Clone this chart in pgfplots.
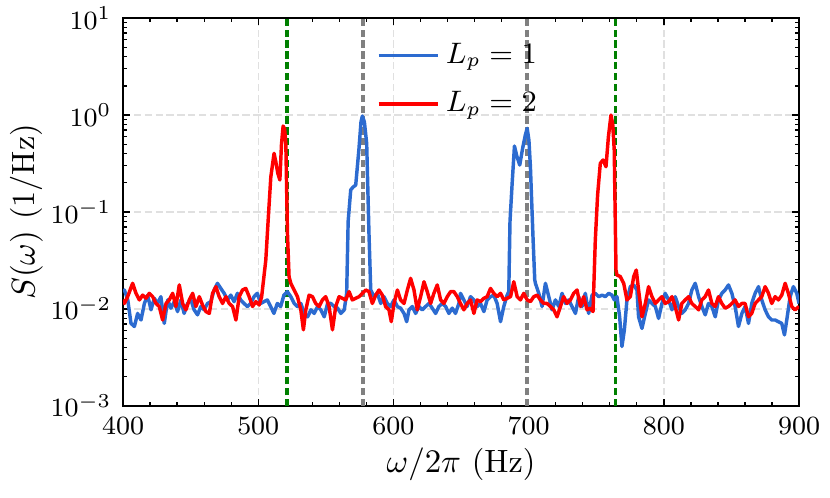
\documentclass[border=0pt]{standalone}
\usepackage{pgfplots}
\pgfplotsset{compat=1.18}
\definecolor{lblue}{RGB}{44,107,208}
\definecolor{vgreen}{RGB}{0,128,0}
\definecolor{vgray}{RGB}{128,128,128}
\begin{document}
\begin{tikzpicture}
\begin{axis}[
  at={(0,0)}, anchor=south west,
  scale only axis, width=205.5pt, height=117.9pt,
  ymode=log, xmin=400, xmax=900, ymin=1e-3, ymax=10,
  xtick={400,500,600,700,800,900}, minor x tick num=4,
  tick align=inside,
  major tick length=2.2pt, minor tick length=1.3pt,
  every tick/.style={black, line width=0.4pt},
  axis line style={line width=0.5pt},
  grid=major,
  major grid style={dash pattern=on 2.2pt off 1.1pt, color=black!12, line width=0.4pt},
  x tick label style={font=\fontsize{8.5}{10}\selectfont},
  y tick label style={font=\fontsize{8.2}{10}\selectfont},
  every axis x label/.style={at={(axis description cs:0.5,0)}, anchor=center, yshift=-17.8pt, font=\fontsize{9.8}{12}\selectfont},
  every axis y label/.style={at={(axis description cs:0,0.5)}, xshift=-29.4pt, anchor=center, rotate=90, font=\fontsize{9.8}{12}\selectfont},
  xlabel={$\omega/2\pi$ (Hz)},
  ylabel={$S(\omega)$ (1/Hz)},
  legend style={draw=none, fill=none, font=\fontsize{8.6}{10}\selectfont,
    at={(0.36,0.972)}, anchor=north west, row sep=3.2pt},
  legend cell align=left,
  legend image code/.code={\draw[#1] (0cm,0cm) -- (0.63cm,0cm);},
]
\addplot[vgreen, line width=1.1pt, dash pattern=on 2.2pt off 1.1pt, forget plot] coordinates {(521.1,1e-3) (521.1,10)};
\addplot[vgreen, line width=1.1pt, dash pattern=on 2.2pt off 1.1pt, forget plot] coordinates {(764.1,1e-3) (764.1,10)};
\addplot[vgray, line width=1.1pt, dash pattern=on 2.2pt off 1.1pt, forget plot] coordinates {(577.3,1e-3) (577.3,10)};
\addplot[vgray, line width=1.1pt, dash pattern=on 2.2pt off 1.1pt, forget plot] coordinates {(699.0,1e-3) (699.0,10)};
% L_p = 1
\addplot[lblue, line width=1.05pt, line join=round] coordinates {
(400.0,0.0150) (401,0.0157) (403.5,0.0124) (405.9,0.0071) (408.4,0.0066) (410.8,0.0090) (413.3,0.0077)
(415.8,0.0114) (418.2,0.0139) (420.7,0.0098) (423.1,0.0129) (425.6,0.0114) (428,0.0134)
(430.5,0.0071) (433,0.0124) (435.4,0.0102) (437.9,0.0119) (440.3,0.0094) (442.8,0.0124)
(445.2,0.0090) (447.7,0.0114) (450.2,0.0124) (452.6,0.0098) (455.1,0.0087) (457.5,0.0106)
(460,0.0098) (462.5,0.0114) (464.9,0.0119) (467.4,0.0157) (469.8,0.0184) (472.3,0.0163)
(474.8,0.0145) (477.2,0.0124) (479.7,0.0139) (482.1,0.0119) (484.6,0.0145) (487,0.0124)
(489.5,0.0114) (492,0.0106) (494.4,0.0114) (496.9,0.0134) (499.3,0.0145) (501.8,0.0114)
(504.3,0.0119) (506.7,0.0124) (509.2,0.0106) (511.6,0.0090) (514.1,0.0114) (516.6,0.0106)
(519,0.0139) (521.5,0.0151) (524.1,0.0134) (526.6,0.0114) (529,0.0106) (531.5,0.0114)
(534,0.0090) (536.5,0.0083) (539,0.0098) (541.4,0.0090) (543.9,0.0106) (546.3,0.0098)
(548.8,0.0083) (551.3,0.0114) (553.7,0.0114) (556.2,0.0106) (558.7,0.0102) (561.1,0.0090)
(563.6,0.0098) (565.4,0.0145) (566.5,0.08) (568.4,0.169) (570,0.18) (572.1,0.190)
(574.5,0.45) (576,0.85) (577.0,0.977) (578.5,0.85) (580.2,0.511) (581.9,0.060)
(583.2,0.0157) (585.6,0.0134) (588.1,0.0145) (590.6,0.0114) (593.0,0.0134) (595.5,0.0114)
(597.9,0.0106) (600.4,0.0124) (602.9,0.0106) (605.3,0.0102) (607.8,0.0090) (609.8,0.0074)
(611.5,0.0098) (614.0,0.0106) (616.4,0.0090) (618.9,0.0106) (621.3,0.0098) (623.8,0.0106)
(626.3,0.0114) (628.7,0.0102) (631.2,0.0090) (633.6,0.0106) (636.1,0.0114) (638.6,0.0106)
(641.0,0.0090) (643.5,0.0102) (645.9,0.0090) (648.4,0.0114) (649.6,0.0145) (652.1,0.0124)
(654.5,0.0106) (657.0,0.0134) (659.5,0.0124) (661.9,0.0106) (664.4,0.0114) (666.9,0.0094)
(669.3,0.0124) (671.8,0.0134) (674.2,0.0139) (676.7,0.0114) (679.2,0.0074) (681.6,0.0106)
(684.1,0.0139) (685.3,0.0151) (686.2,0.08) (687.8,0.198) (689.5,0.479) (691.2,0.38)
(693.4,0.305) (695.5,0.45) (697.5,0.62) (698.9,0.730) (700.2,0.55) (701.3,0.293)
(703.3,0.0514) (704.5,0.020) (705.0,0.0184) (707.5,0.0145) (709.9,0.0106) (712.4,0.0184)
(714.9,0.0134) (717.3,0.0098) (719.8,0.0124) (722.3,0.0106) (724.7,0.0145) (727.2,0.0114)
(729.6,0.0124) (732.1,0.0106) (734.6,0.0090) (737.0,0.0134) (739.5,0.0106) (741.9,0.0145)
(744.4,0.0090) (746.9,0.0139) (749.3,0.0145) (751.8,0.0134) (754.3,0.0139) (756.7,0.0134)
(759.2,0.0145) (761.6,0.0139) (763.4,0.0124) (765.3,0.0134) (767.3,0.0083) (769.0,0.0041)
(770.8,0.0061) (772.7,0.0124) (775.2,0.0170) (777.7,0.0177) (780.1,0.0157) (781.3,0.0083)
(783.8,0.0063) (786.3,0.0090) (788.7,0.0124) (791.2,0.0114) (793.7,0.0106) (796.1,0.0080)
(798.6,0.0114) (801.0,0.0145) (803.5,0.0124) (806.0,0.0098) (808.4,0.0134) (810.9,0.0106)
(813.3,0.0090) (815.8,0.0098) (818.3,0.0114) (820.7,0.0157) (823.2,0.0184) (825.7,0.0134)
(828.1,0.0106) (830.6,0.0087) (833.0,0.0114) (835.5,0.0106) (838.0,0.0083) (840.4,0.0124)
(842.9,0.0145) (845.3,0.0157) (847.8,0.0177) (850.3,0.0145) (852.7,0.0106) (855.2,0.0066)
(857.7,0.0090) (860.1,0.0106) (862.6,0.0071) (865.0,0.0114) (867.5,0.0145) (870.0,0.0170)
(872.4,0.0124) (874.9,0.0098) (877.4,0.0083) (879.8,0.0077) (882.3,0.0077) (884.7,0.0074)
(887.2,0.0071) (889.2,0.0054) (890.9,0.0077) (893.4,0.0134) (895.8,0.0170) (898.3,0.0145)
(900.0,0.0114)
};
\addlegendentry{$L_p = 1$}
% L_p = 2
\addplot[red, line width=1.05pt, line join=round] coordinates {
(400.0,0.0125) (401.0,0.0114) (403.4,0.0134) (407.1,0.0184) (409.6,0.0145) (412.1,0.0124) (414.5,0.0139)
(417.0,0.0129) (419.4,0.0145) (421.9,0.0134) (424.4,0.0114) (426.8,0.0106) (429.3,0.0077)
(431.8,0.0114) (434.2,0.0124) (436.7,0.0145) (439.1,0.0106) (441.6,0.0177) (444.1,0.0114)
(446.5,0.0098) (449.0,0.0124) (451.5,0.0145) (453.9,0.0106) (456.4,0.0134) (458.8,0.0110)
(461.3,0.0094) (463.8,0.0090) (466.2,0.0145) (468.7,0.0170) (471.1,0.0134) (473.6,0.0114)
(476.1,0.0134) (478.5,0.0114) (481.0,0.0106) (483.5,0.0077) (485.9,0.0134) (488.4,0.0157)
(490.8,0.0163) (493.3,0.0134) (495.8,0.0106) (498.2,0.0119) (500.7,0.0110) (502.5,0.0133)
(505.6,0.0320) (507.5,0.09) (509.3,0.230) (511.7,0.403) (513,0.33) (514.5,0.25)
(516,0.214) (517.2,0.5) (518.4,0.771) (519.5,0.72) (520.4,0.511) (521.6,0.0608)
(522.8,0.0215) (524.1,0.0184) (526.5,0.0157) (529.0,0.0134) (531.5,0.0098) (533.4,0.0061)
(535.2,0.0098) (537.6,0.0139) (540.1,0.0134) (542.5,0.0114) (545.0,0.0106) (547.5,0.0124)
(549.9,0.0134) (552.4,0.0106) (554.9,0.0061) (557.3,0.0106) (559.8,0.0134) (562.2,0.0129)
(564.7,0.0124) (567.2,0.0151) (569.6,0.0124) (572.1,0.0129) (574.6,0.0134) (577.0,0.0145)
(579.5,0.0157) (581.9,0.0151) (584.4,0.0114) (586.9,0.0139) (589.3,0.0157) (591.8,0.0139)
(594.2,0.0106) (596.7,0.0098) (598.4,0.0074) (600.4,0.0114) (602.9,0.0157) (605.3,0.0124)
(607.8,0.0114) (610.3,0.0157) (612.7,0.0207) (615.2,0.0157) (617.6,0.0098) (620.1,0.0134)
(622.6,0.0191) (625.0,0.0151) (627.5,0.0114) (629.9,0.0145) (632.4,0.0177) (634.9,0.0124)
(637.3,0.0114) (639.8,0.0134) (642.3,0.0151) (644.7,0.0151) (647.2,0.0134) (649.6,0.0114)
(652.1,0.0098) (654.5,0.0114) (657.0,0.0124) (659.5,0.0090) (661.9,0.0124) (664.4,0.0119)
(666.9,0.0129) (669.3,0.0134) (671.8,0.0163) (674.2,0.0145) (676.7,0.0134) (679.2,0.0145)
(681.6,0.0124) (684.1,0.0129) (686.6,0.0134) (689.0,0.0191) (691.5,0.0134) (693.9,0.0124)
(696.4,0.0145) (698.9,0.0124) (701.3,0.0119) (703.8,0.0134) (706.3,0.0139) (708.7,0.0124)
(711.2,0.0114) (713.6,0.0114) (716.1,0.0106) (718.6,0.0098) (721.0,0.0083) (723.5,0.0106)
(725.9,0.0134) (728.4,0.0114) (730.9,0.0124) (733.3,0.0145) (735.8,0.0157) (738.3,0.0106)
(740.7,0.0134) (743.2,0.0098) (745.6,0.0102) (747.6,0.0094) (749.3,0.0514) (751,0.15)
(753.0,0.318) (755,0.344) (757.2,0.293) (759,0.6) (760.9,1.0) (762.2,0.8)
(763.3,0.435) (764.6,0.0252) (765.3,0.0224) (767.8,0.0216) (770.3,0.0184) (772.7,0.0124)
(775.2,0.0134) (777.7,0.0216) (779.6,0.0252) (781.3,0.0157) (783.8,0.0083) (786.3,0.0114)
(788.7,0.0170) (791.2,0.0134) (793.7,0.0114) (796.1,0.0124) (798.6,0.0134) (801.0,0.0114)
(803.5,0.0119) (806.0,0.0134) (808.4,0.0106) (810.9,0.0077) (813.3,0.0114) (815.8,0.0124)
(818.3,0.0134) (820.7,0.0114) (823.2,0.0106) (825.7,0.0098) (828.1,0.0124) (830.6,0.0134)
(833.0,0.0157) (835.5,0.0114) (838.0,0.0106) (840.4,0.0134) (842.9,0.0114) (845.3,0.0102)
(847.8,0.0106) (850.3,0.0114) (852.7,0.0124) (855.2,0.0106) (857.7,0.0114) (860.1,0.0114)
(862.6,0.0083) (865.0,0.0090) (867.5,0.0114) (870.0,0.0124) (872.4,0.0134) (874.9,0.0170)
(877.4,0.0145) (879.8,0.0114) (882.3,0.0134) (884.7,0.0124) (887.2,0.0139) (889.7,0.0184)
(892.1,0.0145) (894.6,0.0106) (897.0,0.0098) (900.0,0.0106)
};
\addlegendentry{$L_p = 2$}
\end{axis}
\pgfresetboundingbox
\path (-37.4pt,-27.96pt) rectangle (214.9pt,123.4pt);
\end{tikzpicture}
\end{document}
